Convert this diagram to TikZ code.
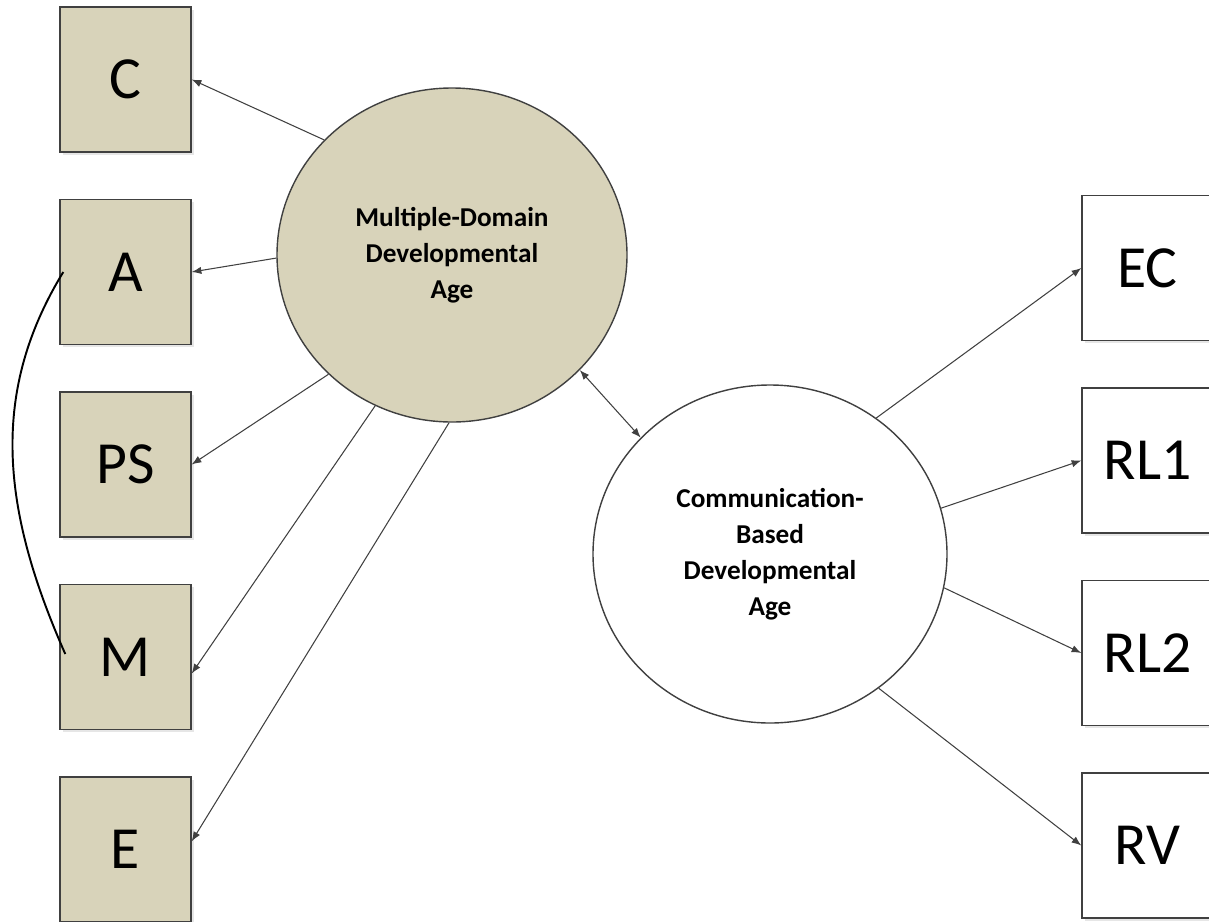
\documentclass[tikz,border=0pt]{standalone}
\usepackage{fontspec}
\setmainfont{Carlito}
\usepackage{tikz}
\usetikzlibrary{arrows.meta,shapes,positioning,shadows}
\usepackage{xcolor}
\definecolor{mdtan}{RGB}{216,211,186}
\definecolor{mdline}{RGB}{64,64,64}
\tikzstyle{itembox} = [rectangle, minimum width=2.62cm, minimum height=2.9cm, inner sep=0pt, text centered, draw=mdline, fill=mdtan, line width=0.8pt, drop shadow={opacity=0.2, shadow xshift=0.05cm, shadow yshift=-0.05cm}, font=\fontsize{34}{40}\selectfont]
\tikzstyle{itemboxw} = [itembox, fill=white]
\tikzstyle{latent} = [ellipse, inner sep=0pt, align=center, draw=mdline, line width=0.8pt, font=\fontsize{15.5}{20.5}\selectfont\bfseries]
\tikzstyle{arrow} = [->, >={Latex[length=5.5pt,width=4.2pt]}, color=mdline, line width=0.6pt]

\begin{document}
\begin{tikzpicture}[node distance=3.85cm]
\useasboundingbox (0,0) rectangle (24.18,-18.44);

% Multiple-domain measures
\node (C) [itembox] at (2.51,-1.59) {C};
\node (A) [itembox, below of=C] {A};
\node (PS) [itembox, below of=A] {PS};
\node (M) [itembox, below of=PS] {M};
\node (E) [itembox, below of=M] {E};

% Communication measures
\node (EC) [itemboxw] at (22.95,-5.36) {EC};
\node (RL1) [itemboxw, below of=EC] {RL1};
\node (RL2) [itemboxw, below of=RL1] {RL2};
\node (RV) [itemboxw, below of=RL2] {RV};

% Latent factors
\node (mdda) [latent, fill=mdtan, minimum width=7.0cm, minimum height=6.68cm] at (9.04,-5.10) {Multiple-Domain\\Developmental\\Age};
\node (cbda) [latent, fill=white, minimum width=7.08cm, minimum height=6.76cm] at (15.40,-11.08) {Communication-\\Based\\Developmental\\Age};

% Arrows
\draw[arrow] (mdda.138) -- (C.east);
\draw[arrow] (mdda.181) -- (A.east);
\draw[arrow] (mdda.224) -- (PS.east);
\draw[arrow] (mdda.243.6) -- (M.-14.5);
\draw[arrow] (mdda.269.3) -- (E.7.8);
\draw[arrow] (cbda.52) -- (EC.west);
\draw[arrow] (cbda.15.2) -- (RL1.west);
\draw[arrow] (cbda.-11.4) -- (RL2.west);
\draw[arrow] (cbda.-51.4) -- (RV.west);
\draw[arrow, <->] (mdda.-42.9) -- (cbda.138.5);

% Correlated residual
\draw[line width=1.1pt] ([xshift=0.08cm]A.west) .. controls +(-1.44,-2.36) and +(-1.32,2.98) .. ([xshift=0.12cm, yshift=0.06cm]M.west);
\end{tikzpicture}
\end{document}
